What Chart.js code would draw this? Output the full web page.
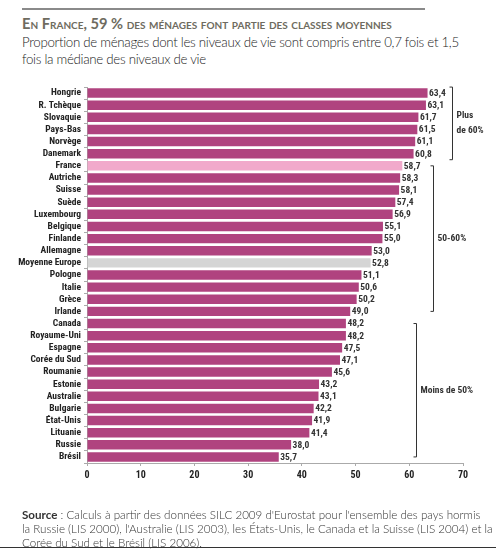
<!DOCTYPE html>
<html><head><meta charset="utf-8">
<script src="https://cdn.jsdelivr.net/npm/chart.js@4"></script>
<style>
html,body{margin:0;padding:0;background:#fff;}
#wrap{position:relative;width:496px;height:551px;overflow:hidden;}
#c{position:absolute;left:0;top:0;}
.t{position:absolute;left:22px;white-space:nowrap;}
#topline{position:absolute;left:22px;top:8px;width:403px;height:2px;background:#8a8a8a;}
#botline{position:absolute;left:0;top:547px;width:496px;height:1px;background:#333;}
#title{top:14px;font-family:Lato,"Open Sans",sans-serif;font-weight:bold;font-variant:small-caps;font-size:14.7px;color:#6e6b60;}
.sub{font-family:Lato,"Open Sans",sans-serif;font-weight:300;font-size:13.3px;letter-spacing:-0.3px;color:#222;}
.src{font-family:Lato,"Open Sans",sans-serif;font-weight:300;font-size:11.6px;color:#333;}
</style></head>
<body><div id="wrap">
<div id="topline"></div>
<div class="t" id="title">En France, 59 % des ménages font partie des classes moyennes</div>
<div class="t sub" style="top:34px">Proportion de ménages dont les niveaux de vie sont compris entre 0,7 fois et 1,5</div>
<div class="t sub" style="top:51px">fois la médiane des niveaux de vie</div>
<canvas id="c" width="496" height="551"></canvas>
<div class="t src" style="top:508px"><b style="font-weight:bold">Source</b> : Calculs à partir des données SILC 2009 d'Eurostat pour l'ensemble des pays hormis</div>
<div class="t src" style="top:522px">la Russie (LIS 2000), l'Australie (LIS 2003), les États-Unis, le Canada et la Suisse (LIS 2004) et la</div>
<div class="t src" style="top:536px">Corée du Sud et le Brésil (LIS 2006).</div>
<div id="botline"></div>
</div>
<script>
const categories = ["Hongrie","R. Tchèque","Slovaquie","Pays-Bas","Norvège","Danemark","France","Autriche","Suisse","Suède","Luxembourg","Belgique","Finlande","Allemagne","Moyenne Europe","Pologne","Italie","Grèce","Irlande","Canada","Royaume-Uni","Espagne","Corée du Sud","Roumanie","Estonie","Australie","Bulgarie","État-Unis","Lituanie","Russie","Brésil"];
const values = [63.4,63.1,61.7,61.5,61.1,60.8,58.7,58.3,58.1,57.4,56.9,55.1,55.0,53.0,52.8,51.1,50.6,50.2,49.0,48.2,48.2,47.5,47.1,45.6,43.2,43.1,42.2,41.9,41.4,38.0,35.7];
const xTicks = [0,10,20,30,40,50,60,70];
const groupLabels = [["Plus","de 60%"],["50-60%"],["Moins de 50%"]];
const groupFirst = ["Hongrie","France","Canada"];
const groupLast = ["Danemark","Irlande","Brésil"];
const groupX = [68,64.4,61.3];

const barColor = "#b0437f", franceColor = "#f1a9cb", avgColor = "#d5d5d5";
const colors = categories.map(c => c==="France"?franceColor:(c==="Moyenne Europe"?avgColor:barColor));
const condensed = '"Roboto Condensed","Open Sans Condensed",sans-serif';

const extras = {
  id:"extras",
  afterDatasetsDraw(chart){
    const ctx = chart.ctx, x = chart.scales.x, y = chart.scales.y;
    const meta = chart.getDatasetMeta(0);
    ctx.save();
    ctx.font = "bold 9.5px " + condensed;
    ctx.fillStyle = "#333";
    ctx.textBaseline = "middle";
    ctx.textAlign = "left";
    meta.data.forEach((b,i)=>{
      ctx.fillText(values[i].toFixed(1).replace(".",","), b.x+1.5, b.y+0.5);
    });
    ctx.strokeStyle = "#333"; ctx.lineWidth = 1;
    groupLabels.forEach((lab,g)=>{
      const i0 = categories.indexOf(groupFirst[g]), i1 = categories.indexOf(groupLast[g]);
      const ext = g===0 ? 6 : 0;
      const top = y.getPixelForValue(i0) - ext, bot = y.getPixelForValue(i1) + ext;
      const px = Math.round(x.getPixelForValue(groupX[g])) + 0.5;
      ctx.beginPath();
      ctx.moveTo(px-3, top); ctx.lineTo(px, top); ctx.lineTo(px, bot); ctx.lineTo(px-3, bot);
      ctx.stroke();
      const mid = (top+bot)/2;
      ctx.font = "bold 9.5px " + condensed;
      lab.forEach((s,k)=>{
        ctx.fillText(s, px+4, mid + (k-(lab.length-1)/2)*15);
      });
    });
    ctx.restore();
  }
};

new Chart(document.getElementById("c"), {
  type:"bar",
  data:{labels:categories, datasets:[{data:values, backgroundColor:colors, barPercentage:0.78, categoryPercentage:1}]},
  options:{
    indexAxis:"y", responsive:false, animation:false,
    layout:{padding:{left:0,top:87,right:33,bottom:68}},
    plugins:{legend:{display:false},tooltip:{enabled:false}},
    scales:{
      x:{min:0,max:70,
        afterBuildTicks(s){ s.ticks = xTicks.map(v=>({value:v})); },
        afterFit(s){ s.height = 20; },
        border:{color:"#aaa",width:1},
        grid:{drawOnChartArea:false,tickLength:3,color:"#aaa"},
        ticks:{font:{family:condensed,size:10,weight:"bold"},color:"#222",padding:3,maxRotation:0}},
      y:{
        afterFit(s){ s.width = 87; },
        border:{color:"#aaa",width:1},
        grid:{drawOnChartArea:false,tickLength:3,color:"#aaa"},
        ticks:{font:{family:condensed,size:9.5,weight:"bold"},color:"#222",padding:3,autoSkip:false}}
    }
  },
  plugins:[extras]
});
</script>
</body></html>
